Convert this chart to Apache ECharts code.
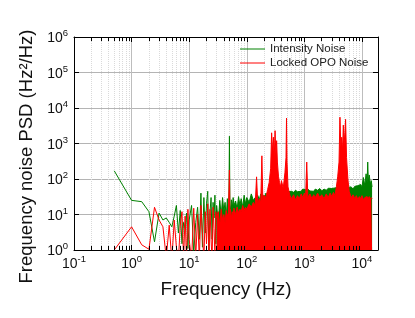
<!DOCTYPE html>
<html><head><meta charset="utf-8">
<script src="https://cdn.jsdelivr.net/npm/echarts@6/dist/echarts.min.js"></script>
<style>html,body{margin:0;padding:0;background:#fff}#c{width:415px;height:318px}</style>
</head><body><div id="c"></div>
<script>
// ---- data ----
const lowFreq = [0.5,1,1.5,2,2.5,3,3.5,4,4.5,5,5.5,6,6.5,7,7.5,8,8.5,9,9.5,10,11,12,13,14,15,16,17,18,19,20,21,22,23,24,25,26,27,28,29,30];
const lowIntensity = [170,25,23,12,1.7,11,7,8,6,4.5,9,18,3,13,1.5,6,4,11,1.1,7,18,0.8,6,16,2,40,1.2,30,3,20,45,1,12,30,2,22,8,35,1.5,18];
const lowOPO = [1,4.5,1.4,1.05,16,7,4.5,0.6,5,0.5,7,1.2,0.5,5,12,0.6,9,0.5,14,2,0.5,15,0.6,10,0.5,18,3,0.5,12,1.5,20,0.5,14,2,0.5,16,4,0.7,12,8];

const hiFreq = [30,32,34,36,38,40,42,44,46,48,49,50,51,52,54,56,58,60,64,68,72,76,80,85,90,95,100,
  110,120,130,140,148,155,165,175,183,190,200,
  215,230,245,260,270,280,290,300,310,320,330,340,355,370,385,
  400,430,460,480,490,500,520,560,600,650,700,760,820,880,940,1000,1050,1100,1150,
  1250,1350,1450,1550,1700,1850,2000,2200,2400,2600,2800,3000,3200,3400,3600,3800,
  4000,4150,4300,4450,4600,4750,4900,5050,5200,5400,5700,6000,6500,7000,7500,8000,8500,9000,9500,10000,
  10600,11200,11800,12300,12600,12900,13400,14000,14500,15000];
const hiIntensity = [18,6,25,9,30,12,22,8,28,14,20,1600,18,12,26,15,30,18,24,14,32,18,28,16,35,20,30,
  22,38,25,30,28,35,26,38,30,36,30,
  40,34,38,35,36,35,38,36,38,35,38,36,38,35,40,
  38,40,42,40,42,40,44,40,45,42,48,44,50,45,52,46,50,48,52,
  46,50,45,52,48,54,46,52,48,55,50,54,48,56,52,58,
  60,62,60,64,60,62,60,64,62,60,58,55,60,52,62,55,65,58,70,60,
  110,65,140,80,300,90,130,70,90,60];
const hiOPO = [8,12,5,14,7,10,6,13,9,11,10,180,9,14,8,12,9,15,10,16,11,14,12,18,13,16,14,
  20,16,22,18,115,20,28,22,450,26,35,
  30,50,80,200,2000,600,1500,400,2300,500,1200,300,120,80,60,
  90,55,150,400,5200,300,60,35,28,36,26,34,28,38,30,40,28,300,30,
  38,28,36,30,40,30,36,28,38,30,40,32,42,34,60,120,
  300,5500,800,1500,600,3300,900,2000,4800,400,100,45,30,36,28,34,26,32,28,34,
  26,30,28,32,30,28,32,26,30,28];

const xRange = [0.1, 19000];
const yRange = [1, 1e6];
const seriesNames = ['Intensity Noise', 'Locked OPO Noise'];
const colors = ['#008000', '#ff0000'];
const minorMultipliers = [2,3,4,5,6,7,8,9];
const minorDecades = [0.1,1,10,100,1000];

// ---- build ----
const FONT = 'Liberation Sans';
const pair = (xs, ys) => xs.map((x, i) => [x, ys[i]]);
const minorVals = [];
minorDecades.forEach(d => minorMultipliers.forEach(m => { const v = +(m * d).toPrecision(6); if (v < xRange[1]) minorVals.push(v); }));

function powLabel(v) {
  const e = Math.round(Math.log10(v));
  if (Math.abs(Math.log10(v) - e) > 1e-6) return '';
  return '{b|10}{s|' + e + '}';
}
const richLab = {
  b: { fontSize: 14, fontFamily: FONT, color: '#111', verticalAlign: 'bottom', padding: [3, 0, 0, 0] },
  s: { fontSize: 9.5, fontFamily: FONT, color: '#111', verticalAlign: 'top' }
};

const tickLen = 1.3; // ratio on log y
const tickSegs = [];
minorVals.forEach(v => {
  tickSegs.push([{ coord: [v, yRange[0]] }, { coord: [v, yRange[0] * tickLen] }]);
  tickSegs.push([{ coord: [v, yRange[1] / tickLen] }, { coord: [v, yRange[1]] }]);
});

const chart = echarts.init(document.getElementById('c'), null, { renderer: 'canvas' });
chart.setOption({
  animation: false,
  backgroundColor: '#fff',
  grid: { left: 74, right: 37, top: 37, bottom: 68, containLabel: false },
  legend: {
    data: seriesNames.map((n, i) => ({ name: n, icon: 'rect', itemStyle: { color: colors[i], borderWidth: 0 } })),
    orient: 'vertical', left: 240, top: 43, padding: 0,
    itemWidth: 25, itemHeight: 1, itemGap: 2,
    textStyle: { fontFamily: FONT, fontSize: 11.5, color: '#222', lineHeight: 12 }
  },
  xAxis: [{
    type: 'log', logBase: 10, min: xRange[0], max: xRange[1], position: 'bottom',
    name: 'Frequency (Hz)', nameLocation: 'middle', nameGap: 30,
    nameTextStyle: { fontFamily: FONT, fontSize: 19, color: '#111' },
    axisLine: { show: true, lineStyle: { color: '#000', width: 1 } },
    axisTick: { show: true, inside: true, length: 5, lineStyle: { color: '#000' } },
    axisLabel: { margin: 4, formatter: powLabel, rich: richLab },
    splitLine: { show: true, lineStyle: { color: '#bdbdbd', width: 1 } },
    minorTick: { show: false }
  }, {
    type: 'log', logBase: 10, min: xRange[0], max: xRange[1], position: 'top',
    axisLine: { show: true, lineStyle: { color: '#000', width: 1 } },
    axisTick: { show: true, inside: true, length: 5, lineStyle: { color: '#000' } },
    axisLabel: { show: false }, splitLine: { show: false }
  }],
  yAxis: [{
    type: 'log', logBase: 10, min: yRange[0], max: yRange[1], position: 'left',
    name: 'Frequency noise PSD (Hz²/Hz)', nameLocation: 'middle', nameGap: 38,
    nameTextStyle: { fontFamily: FONT, fontSize: 18.5, color: '#111', padding: [0, 26, 0, 0] },
    axisLine: { show: true, lineStyle: { color: '#000', width: 1 } },
    axisTick: { show: true, inside: true, length: 5, lineStyle: { color: '#000' } },
    axisLabel: { margin: 6, formatter: powLabel, rich: richLab },
    splitLine: { show: true, lineStyle: { color: '#b4b4b4', width: 1 } }
  }, {
    type: 'log', logBase: 10, min: yRange[0], max: yRange[1], position: 'right',
    axisLine: { show: true, lineStyle: { color: '#000', width: 1 } },
    axisTick: { show: true, inside: true, length: 5, lineStyle: { color: '#000' } },
    axisLabel: { show: false }, splitLine: { show: false }
  }],
  series: [
    {
      name: seriesNames[0], type: 'line', symbol: 'none', z: 2,
      data: pair(lowFreq, lowIntensity),
      lineStyle: { color: colors[0], width: 1 }, itemStyle: { color: colors[0] },
      markLine: {
        silent: true, symbol: ['none', 'none'], z: 1, animation: false,
        label: { show: false },
        lineStyle: { color: '#dadada', type: 'dotted', width: 1 },
        data: minorVals.map(v => ({ xAxis: v }))
      }
    },
    {
      name: seriesNames[0], type: 'line', symbol: 'none', z: 2,
      data: pair(hiFreq, hiIntensity),
      lineStyle: { color: colors[0], width: 1 }, itemStyle: { color: colors[0] },
      areaStyle: { color: colors[0], opacity: 1, origin: 'start' }
    },
    {
      name: seriesNames[1], type: 'line', symbol: 'none', z: 3,
      data: pair(lowFreq, lowOPO),
      lineStyle: { color: colors[1], width: 1 }, itemStyle: { color: colors[1] }
    },
    {
      name: seriesNames[1], type: 'line', symbol: 'none', z: 3,
      data: pair(hiFreq, hiOPO),
      lineStyle: { color: colors[1], width: 1 }, itemStyle: { color: colors[1] },
      areaStyle: { color: colors[1], opacity: 1, origin: 'start' },
      markLine: {
        silent: true, symbol: ['none', 'none'], z: 6, animation: false,
        label: { show: false },
        lineStyle: { color: '#000', type: 'solid', width: 1 },
        data: tickSegs
      }
    }
  ]
});
</script>
</body></html>
